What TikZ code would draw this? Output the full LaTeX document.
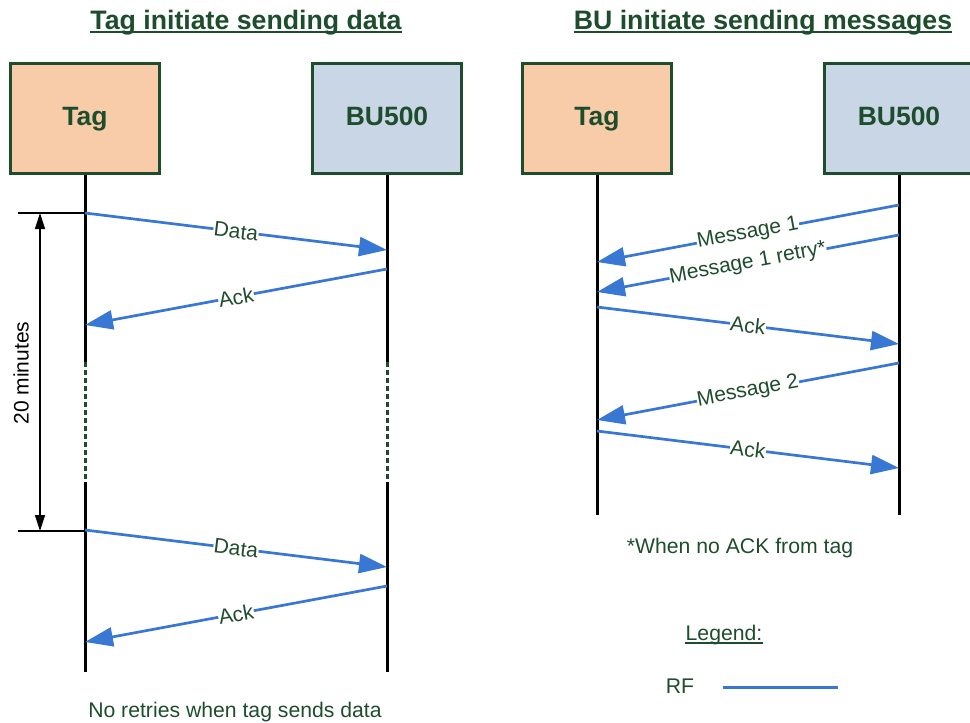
\documentclass[tikz,border=0pt]{standalone}
\usepackage{fontspec}
\setmainfont{Liberation Sans}
\usetikzlibrary{arrows.meta}
\definecolor{dkg}{RGB}{30,77,46}
\definecolor{peach}{RGB}{248,204,168}
\definecolor{bluegray}{RGB}{200,214,230}
\definecolor{rfblue}{RGB}{56,120,212}
\begin{document}
\begin{tikzpicture}[x=1pt,y=-1pt,
  box/.style={draw=dkg, line width=3pt, minimum width=149pt, minimum height=110pt,
    inner sep=0pt, font=\fontsize{26.5}{30}\selectfont\bfseries, text=dkg,
    text height=19.5pt, text depth=5pt},
  life/.style={line width=3pt, black},
  gap/.style={line width=3pt, dkg, dash pattern=on 4.5pt off 3.5pt},
  msg/.style={draw=rfblue, line width=2.7pt, -{Triangle[length=28pt,width=19pt]}},
  lbl/.style={sloped, fill=white, inner sep=0.5pt, text=dkg, font=\fontsize{21}{24}\selectfont},
  txt/.style={text=dkg, inner sep=0pt, anchor=base, font=\fontsize{21.2}{24}\selectfont},
  ttl/.style={text=dkg, inner sep=0pt, anchor=base, font=\fontsize{26.7}{30}\selectfont\bfseries},
  dim/.style={line width=1.2pt, black},
  dimarrow/.style={dim, {Triangle[length=16pt,width=10pt]}-{Triangle[length=16pt,width=10pt]}}
]
\useasboundingbox (0,0) rectangle (970,723);

% titles
\node[ttl] (t1) at (246,29) {Tag initiate sending data};
\draw[dkg, line width=2pt] ([yshift=-3pt]t1.base west) -- ([yshift=-3pt]t1.base east);
\node[ttl] (t2) at (763,29) {BU initiate sending messages};
\draw[dkg, line width=2pt] ([yshift=-3pt]t2.base west) -- ([yshift=-3pt]t2.base east);

% boxes
\node[box, fill=peach] (tagL) at (85,118.5) {Tag};
\node[box, fill=bluegray] (buL) at (387,118.5) {BU500};
\node[box, fill=peach] (tagR) at (597,118.5) {Tag};
\node[box, fill=bluegray] (buR) at (899,118.5) {BU500};

% left lifelines
\coordinate (tLa) at (85,362);
\coordinate (tLb) at (85,482);
\coordinate (tLe) at (85,672);
\coordinate (bLa) at (387,362);
\coordinate (bLb) at (387,482);
\coordinate (bLe) at (387,672);
\draw[life] (tagL.south) -- (tLa);
\draw[gap] (tLa) -- (tLb);
\draw[life] (tLb) -- (tLe);
\draw[life] (buL.south) -- (bLa);
\draw[gap] (bLa) -- (bLb);
\draw[life] (bLb) -- (bLe);

% right lifelines
\coordinate (tRe) at (597,515);
\coordinate (bRe) at (899,515);
\draw[life] (tagR.south) -- (tRe);
\draw[life] (buR.south) -- (bRe);

% left messages
\coordinate (d1s) at (85,213);   \coordinate (d1e) at (387,250);
\coordinate (a1s) at (387,269);  \coordinate (a1e) at (85,325);
\coordinate (d2s) at (85,530);   \coordinate (d2e) at (387,567);
\coordinate (a2s) at (387,586);  \coordinate (a2e) at (85,642);
\draw[msg] (d1s) -- node[lbl] {Data} (d1e);
\draw[msg] (a1s) -- node[lbl] {Ack} (a1e);
\draw[msg] (d2s) -- node[lbl] {Data} (d2e);
\draw[msg] (a2s) -- node[lbl] {Ack} (a2e);

% dimension
\coordinate (k1) at (18,213);
\coordinate (k2) at (18,531);
\coordinate (k2e) at (85,531);
\coordinate (v1) at (40,213);
\coordinate (v2) at (40,531);
\draw[dim] (k1) -- (d1s);
\draw[dim] (k2) -- (k2e);
\draw[dimarrow] (v1) -- (v2);
\node[text=black, inner sep=0pt, rotate=90, font=\fontsize{21}{24}\selectfont] (mins) at (21,373) {20 minutes};

% right messages
\coordinate (m1s) at (899,205);  \coordinate (m1e) at (597,262);
\coordinate (r1s) at (899,235);  \coordinate (r1e) at (597,292);
\coordinate (k3s) at (597,307);  \coordinate (k3e) at (899,344);
\coordinate (m2s) at (899,363);  \coordinate (m2e) at (597,420);
\coordinate (k4s) at (597,431);  \coordinate (k4e) at (899,468);
\draw[msg] (m1s) -- node[lbl] {Message 1} (m1e);
\draw[msg] (r1s) -- node[lbl] {Message 1 retry*} (r1e);
\draw[msg] (k3s) -- node[lbl] {Ack} (k3e);
\draw[msg] (m2s) -- node[lbl] {Message 2} (m2e);
\draw[msg] (k4s) -- node[lbl] {Ack} (k4e);

% notes
\node[txt] (noret) at (235,717) {No retries when tag sends data};
\node[txt] (noack) at (740,553) {*When no ACK from tag};
\node[txt] (leg) at (724,640) {Legend:};
\draw[dkg, line width=1.3pt] ([yshift=-3pt]leg.base west) -- ([yshift=-3pt]leg.base east);
\node[txt] (rf) at (680,693) {RF};
\coordinate (rfa) at (723,687);
\coordinate (rfb) at (838,687);
\draw[rfblue, line width=3pt] (rfa) -- (rfb);
\end{tikzpicture}
\end{document}
